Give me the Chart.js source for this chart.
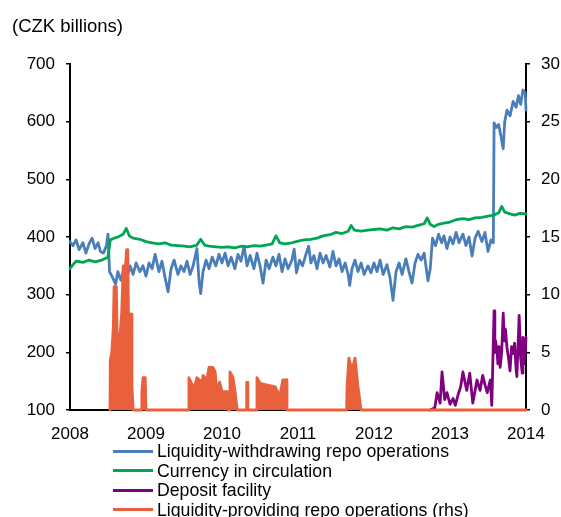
<!DOCTYPE html>
<html>
<head>
<meta charset="utf-8">
<script src="https://cdn.jsdelivr.net/npm/chart.js@4"></script>
<style>
  body { margin: 0; background: #fff; }
  #wrap { position: relative; width: 561px; height: 517px; font-family: "Liberation Sans", Arial, sans-serif; color: #000; }
  #title { position: absolute; left: 12px; top: 15px; font-size: 18.5px; }
  #legend { position: absolute; left: 113px; top: 442px; font-size: 17.7px; line-height: 19.5px; }
  .item { white-space: nowrap; }
  .sw { display: inline-block; width: 40px; height: 3px; vertical-align: middle; margin-right: 4px; position: relative; top: -1px; }
</style>
</head>
<body>
<div id="wrap">
  <canvas id="chart" width="561" height="517"></canvas>
  <div id="title">(CZK billions)</div>
  <div id="legend"></div>
</div>
<script>
// axis ticks
var xTicks = [2008, 2009, 2010, 2011, 2012, 2013, 2014];
var leftTicks = [100, 200, 300, 400, 500, 600, 700];
var rightTicks = [0, 5, 10, 15, 20, 25, 30];

var seriesNames = ['Liquidity-withdrawing repo operations', 'Currency in circulation',
  'Deposit facility', 'Liquidity-providing repo operations (rhs)'];
var seriesColors = ['#4a7ebb', '#00a651', '#800080', '#e9603c'];

// liquidity-withdrawing repo (lhs)
var blueYears = [2008.00, 2008.04, 2008.08, 2008.12, 2008.17, 2008.21, 2008.25, 2008.29, 2008.33, 2008.37,
  2008.40, 2008.44, 2008.48, 2008.50, 2008.52, 2008.56, 2008.60, 2008.63, 2008.67, 2008.71,
  2008.75, 2008.79, 2008.83, 2008.87, 2008.92, 2008.96, 2009.00, 2009.04, 2009.08, 2009.12,
  2009.17, 2009.21, 2009.25, 2009.29, 2009.33, 2009.37, 2009.42, 2009.46, 2009.50, 2009.54,
  2009.58, 2009.62, 2009.67, 2009.70, 2009.72, 2009.75, 2009.79, 2009.83, 2009.87, 2009.92,
  2009.96, 2010.00, 2010.04, 2010.08, 2010.12, 2010.17, 2010.21, 2010.25, 2010.29, 2010.33,
  2010.37, 2010.42, 2010.46, 2010.50, 2010.54, 2010.58, 2010.62, 2010.67, 2010.71, 2010.75,
  2010.79, 2010.83, 2010.87, 2010.92, 2010.95, 2010.98, 2011.02, 2011.06, 2011.10, 2011.14,
  2011.17, 2011.21, 2011.25, 2011.29, 2011.33, 2011.37, 2011.42, 2011.46, 2011.50, 2011.54,
  2011.58, 2011.62, 2011.66, 2011.68, 2011.71, 2011.75, 2011.79, 2011.83, 2011.87, 2011.92,
  2011.96, 2012.00, 2012.04, 2012.08, 2012.12, 2012.17, 2012.21, 2012.25, 2012.29, 2012.33,
  2012.37, 2012.42, 2012.46, 2012.50, 2012.54, 2012.58, 2012.62, 2012.66, 2012.71, 2012.74,
  2012.77, 2012.81, 2012.85, 2012.89, 2012.92, 2012.96, 2013.00, 2013.04, 2013.08, 2013.12,
  2013.17, 2013.21, 2013.25, 2013.29, 2013.33, 2013.37, 2013.42, 2013.46, 2013.50, 2013.54,
  2013.57, 2013.58, 2013.61, 2013.64, 2013.67, 2013.69, 2013.70, 2013.72, 2013.75, 2013.79,
  2013.83, 2013.87, 2013.90, 2013.93, 2013.96, 2013.99, 2014.00];
var blueValues = [392, 385, 395, 378, 390, 372, 388, 398, 380, 390,
  375, 372, 385, 405, 340, 330, 318, 340, 325, 345,
  330, 350, 335, 355, 340, 350, 332, 355, 345, 370,
  340, 358, 330, 305, 345, 360, 335, 350, 340, 358,
  335, 350, 380, 320, 302, 340, 360, 345, 365, 350,
  370, 355, 372, 350, 365, 345, 370, 358, 384, 350,
  368, 345, 372, 350, 320, 360, 345, 365, 350, 370,
  340, 362, 345, 360, 379, 338, 360, 350, 368, 384,
  355, 368, 345, 372, 355, 368, 348, 375, 350, 362,
  340, 355, 335, 316, 345, 360, 340, 355, 335, 350,
  338, 355, 340, 360, 335, 352, 330, 290, 340, 355,
  335, 362, 340, 320, 355, 370, 360, 372, 324, 345,
  398, 385, 405, 390, 402, 380, 400, 388, 408, 390,
  405, 385, 400, 367, 398, 410, 392, 408, 375, 395,
  390, 598, 590, 595, 575, 560, 553, 600, 620, 610,
  635, 625, 645, 630, 655, 650, 620];

// currency in circulation (lhs)
var greenYears = [2008.00, 2008.04, 2008.08, 2008.17, 2008.25, 2008.33, 2008.42, 2008.50, 2008.53, 2008.58,
  2008.63, 2008.70, 2008.74, 2008.78, 2008.83, 2008.92, 2009.00, 2009.08, 2009.17, 2009.25,
  2009.33, 2009.42, 2009.50, 2009.58, 2009.67, 2009.72, 2009.77, 2009.83, 2009.92, 2010.00,
  2010.08, 2010.17, 2010.25, 2010.33, 2010.42, 2010.50, 2010.58, 2010.66, 2010.71, 2010.76,
  2010.83, 2010.92, 2011.00, 2011.08, 2011.17, 2011.25, 2011.33, 2011.42, 2011.50, 2011.58,
  2011.66, 2011.70, 2011.74, 2011.83, 2011.92, 2012.00, 2012.08, 2012.17, 2012.25, 2012.33,
  2012.42, 2012.50, 2012.58, 2012.66, 2012.70, 2012.74, 2012.79, 2012.85, 2012.92, 2013.00,
  2013.08, 2013.17, 2013.25, 2013.33, 2013.42, 2013.50, 2013.58, 2013.64, 2013.68, 2013.72,
  2013.79, 2013.85, 2013.92, 2014.00];
var greenValues = [345, 352, 358, 356, 360, 357, 360, 365, 395, 398,
  400, 405, 415, 402, 398, 396, 392, 390, 388, 390,
  386, 385, 384, 383, 386, 396, 386, 384, 383, 382,
  383, 381, 384, 383, 385, 384, 386, 388, 402, 390,
  388, 390, 393, 395, 396, 398, 402, 404, 408, 406,
  410, 420, 412, 410, 412, 413, 414, 412, 416, 414,
  418, 417, 420, 423, 433, 422, 418, 422, 424, 426,
  430, 432, 430, 433, 434, 436, 438, 442, 453, 443,
  440, 438, 441, 440];

// deposit facility (rhs)
var purpleYears = [2012.74, 2012.80, 2012.83, 2012.87, 2012.895, 2012.93, 2012.96, 2013.00, 2013.04, 2013.07,
  2013.105, 2013.14, 2013.17, 2013.22, 2013.26, 2013.30, 2013.355, 2013.395, 2013.43, 2013.46,
  2013.49, 2013.53, 2013.55, 2013.58, 2013.59, 2013.60, 2013.62, 2013.63, 2013.645, 2013.66,
  2013.68, 2013.70, 2013.715, 2013.73, 2013.75, 2013.77, 2013.79, 2013.81, 2013.83, 2013.85,
  2013.87, 2013.88, 2013.895, 2013.91, 2013.93, 2013.95, 2013.96, 2013.975, 2013.99, 2014.00];
var purpleValues = [0, 0.2, 1.5, 0.6, 3.3, 0.9, 1.5, 0.5, 1.0, 0.4,
  1.3, 2.0, 3.3, 1.7, 3.2, 0.6, 2.6, 1.7, 3.0, 2.2,
  1.5, 2.6, 0.4, 8.6, 5.0, 6.0, 5.0, 4.0, 5.5, 3.7,
  5.0, 8.4, 6.0, 7.0, 5.4, 4.5, 3.4, 5.5, 4.9, 5.8,
  3.5, 2.9, 5.5, 8.2, 4.5, 3.2, 6.3, 4.0, 5.0, 6.3];

// liquidity-providing repo (rhs)
var orangeYears = [2008.526, 2008.53, 2008.55, 2008.57, 2008.58, 2008.61, 2008.62, 2008.66, 2008.68, 2008.70,
  2008.73, 2008.745, 2008.76, 2008.77, 2008.81, 2008.815, 2008.83, 2008.94, 2008.945, 2008.96,
  2008.99, 2009.00, 2009.56, 2009.565, 2009.62, 2009.645, 2009.67, 2009.74, 2009.75, 2009.80,
  2009.83, 2009.88, 2009.91, 2009.93, 2009.97, 2010.00, 2010.07, 2010.08, 2010.10, 2010.105,
  2010.145, 2010.17, 2010.20, 2010.32, 2010.325, 2010.335, 2010.34, 2010.455, 2010.46, 2010.50,
  2010.57, 2010.70, 2010.76, 2010.80, 2010.85, 2010.855, 2011.64, 2011.645, 2011.67, 2011.71,
  2011.75, 2011.79, 2011.83, 2014.00];
var orangeValues = [0, 4.3, 5.0, 7.2, 10.7, 10.7, 6.6, 6.6, 8.4, 12.5,
  12.5, 13.9, 13.9, 8.3, 8.3, 2.2, 0, 0, 1.5, 2.8,
  2.8, 0, 0, 2.8, 2.0, 2.2, 2.8, 2.4, 3.0, 2.6,
  3.7, 3.7, 3.3, 1.7, 2.4, 1.6, 1.6, 0, 0, 3.3,
  2.8, 1.7, 0, 0, 2.4, 2.4, 0, 0, 2.8, 2.3,
  2.2, 2.0, 1.2, 2.6, 2.6, 0, 0, 2.0, 4.5, 3.4,
  4.5, 2.0, 0, 0];

function pts(xs, ys) {
  return xs.map(function (x, i) { return { x: x, y: ys[i] }; });
}

function lineSet(i, data, axis, order) {
  return {
    label: seriesNames[i],
    data: data,
    yAxisID: axis,
    order: order,
    borderColor: seriesColors[i],
    backgroundColor: seriesColors[i],
    borderWidth: 2.8,
    pointRadius: 0,
    tension: 0,
    borderJoinStyle: 'round',
    borderCapStyle: 'round',
    clip: false
  };
}

var font = { family: '"Liberation Sans", Arial, sans-serif', size: 17 };

var orangeSet = lineSet(3, pts(orangeYears, orangeValues), 'y2', 1);
orangeSet.fill = 'origin'; // daily repo spikes read as solid blocks

new Chart(document.getElementById('chart'), {
  type: 'line',
  data: {
    datasets: [
      lineSet(0, pts(blueYears, blueValues), 'y', 4),
      lineSet(1, pts(greenYears, greenValues), 'y', 3),
      lineSet(2, pts(purpleYears, purpleValues), 'y2', 2),
      orangeSet
    ]
  },
  options: {
    responsive: false,
    animation: false,
    layout: { padding: { top: 64, left: 0, right: 0, bottom: 0 } },
    plugins: { legend: { display: false }, tooltip: { enabled: false }, title: { display: false } },
    scales: {
      x: {
        type: 'linear',
        min: xTicks[0],
        max: xTicks[xTicks.length - 1],
        afterBuildTicks: function (s) { s.ticks = xTicks.map(function (v) { return { value: v }; }); },
        afterFit: function (s) { s.height = 107; },
        grid: { display: false },
        border: { display: true, color: '#000', width: 2 },
        ticks: { color: '#000', font: font, padding: 6, maxRotation: 0,
          callback: function (v) { return String(v); } }
      },
      y: {
        position: 'left',
        min: leftTicks[0],
        max: leftTicks[leftTicks.length - 1],
        afterBuildTicks: function (s) { s.ticks = leftTicks.map(function (v) { return { value: v }; }); },
        afterFit: function (s) { s.width = 70; },
        grid: { drawOnChartArea: false, color: '#000', tickLength: 4, lineWidth: 1.5 },
        border: { display: true, color: '#000', width: 2 },
        ticks: { color: '#000', font: font, padding: 11 }
      },
      y2: {
        position: 'right',
        min: rightTicks[0],
        max: rightTicks[rightTicks.length - 1],
        afterBuildTicks: function (s) { s.ticks = rightTicks.map(function (v) { return { value: v }; }); },
        afterFit: function (s) { s.width = 35; },
        grid: { drawOnChartArea: false, color: '#000', tickLength: 4, lineWidth: 1.5 },
        border: { display: true, color: '#000', width: 2 },
        ticks: { color: '#000', font: font, padding: 11 }
      }
    }
  }
});

// legend below the chart, one entry per row
var legend = document.getElementById('legend');
seriesNames.forEach(function (name, i) {
  var row = document.createElement('div');
  row.className = 'item';
  var sw = document.createElement('span');
  sw.className = 'sw';
  sw.style.background = seriesColors[i];
  row.appendChild(sw);
  row.appendChild(document.createTextNode(name));
  legend.appendChild(row);
});
</script>
</body>
</html>
